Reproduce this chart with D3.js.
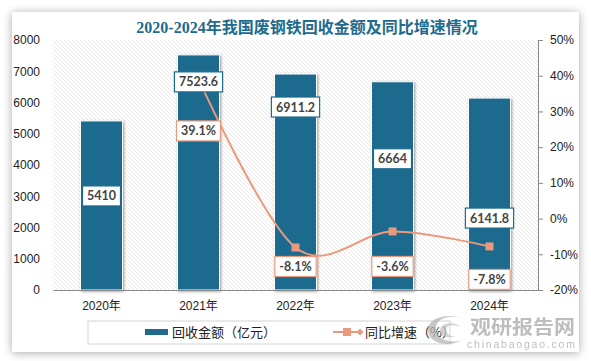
<!DOCTYPE html>
<html><head><meta charset="utf-8">
<script src="https://cdn.jsdelivr.net/npm/d3@7/dist/d3.min.js"></script>
<style>
html,body{margin:0;padding:0;background:#fff;}
svg{display:block;}
</style></head>
<body>
<svg id="chart" width="591" height="361"></svg>
<script>
// ---------- data ----------
const title = "2020-2024年我国废钢铁回收金额及同比增速情况";
const years = ["2020年", "2021年", "2022年", "2023年", "2024年"];
const amount = [5410, 7523.6, 6911.2, 6664, 6141.8];        // 回收金额（亿元）
const growth = [null, 39.1, -8.1, -3.6, -7.8];              // 同比增速（%）
const leftTicks = [0, 1000, 2000, 3000, 4000, 5000, 6000, 7000, 8000];
const rightTicks = [-20, -10, 0, 10, 20, 30, 40, 50];
const seriesNames = ["回收金额（亿元）", "同比增速（%）"];

// ---------- layout (label offsets in px, separate from data) ----------
const barLabelOffset = [75, 27, 33, 77, 120];   // below bar top
const pctLabelOffset = [0, 52, 19, 35, 33];     // below point

const BLUE = "#1E6B8E", ORANGE = "#E99A7C";
const svg = d3.select("#chart");
const defs = svg.append("defs");

const sh = defs.append("filter").attr("id","cardShadow").attr("x","-10%").attr("y","-10%").attr("width","120%").attr("height","120%");
sh.append("feGaussianBlur").attr("in","SourceAlpha").attr("stdDeviation",5);
sh.append("feOffset").attr("dx",0).attr("dy",1).attr("result","b");
sh.append("feComponentTransfer").append("feFuncA").attr("type","linear").attr("slope",0.35);
const m = sh.append("feMerge"); m.append("feMergeNode"); m.append("feMergeNode").attr("in","SourceGraphic");

const bs = defs.append("filter").attr("id","barShadow").attr("x","-30%").attr("y","-10%").attr("width","160%").attr("height","120%");
bs.append("feGaussianBlur").attr("in","SourceAlpha").attr("stdDeviation",1.5);
bs.append("feOffset").attr("dx",1).attr("dy",1);
bs.append("feComponentTransfer").append("feFuncA").attr("type","linear").attr("slope",0.4);
const m2 = bs.append("feMerge"); m2.append("feMergeNode"); m2.append("feMergeNode").attr("in","SourceGraphic");

const pat = defs.append("pattern").attr("id","hatch").attr("patternUnits","userSpaceOnUse")
  .attr("width",4).attr("height",4);
pat.append("rect").attr("width",4).attr("height",4).attr("fill","#fff");
pat.append("path").attr("d","M-1,-1 L5,5 M-1,3 L1,5 M3,-1 L5,1").attr("stroke","#e0e0e0").attr("stroke-width",0.7);

// card
svg.append("rect").attr("x",0).attr("y",0).attr("width",591).attr("height",361).attr("fill","#fff");
svg.append("rect").attr("x",12).attr("y",12).attr("width",567).attr("height",340)
  .attr("fill","#fff").attr("filter","url(#cardShadow)");

// scales
const plot = {l:53, r:538, t:40, b:290};
const x = d3.scaleBand().domain(years).range([plot.l, plot.r]).paddingInner(0.567).paddingOuter(0.2835);
const yL = d3.scaleLinear().domain([0, 8000]).range([plot.b, plot.t]);
const yR = d3.scaleLinear().domain([-20, 50]).range([plot.b, plot.t]);

// hatched plot background
svg.append("rect").attr("x",plot.l).attr("y",plot.t).attr("width",plot.r-plot.l).attr("height",plot.b-plot.t)
  .attr("fill","url(#hatch)");

// title
svg.append("text").attr("x",307).attr("y",33).attr("text-anchor","middle")
  .attr("font-family","'Liberation Serif','Noto Sans CJK SC',serif").attr("font-weight","bold")
  .attr("font-size",16).attr("fill","#1E6B8E").text(title);

const axisFont = "'Liberation Sans','Noto Sans CJK SC',sans-serif";

// left axis
const gL = svg.append("g").attr("transform",`translate(${plot.l},0)`)
  .call(d3.axisLeft(yL).tickValues(leftTicks).tickSize(0).tickPadding(13).tickFormat(d3.format("d")));
gL.select(".domain").remove();
gL.selectAll("text").attr("font-family",axisFont).attr("font-size",12).attr("fill","#222");

// right axis
const gR = svg.append("g").attr("transform",`translate(${plot.r},0)`)
  .call(d3.axisRight(yR).tickValues(rightTicks).tickSizeInner(5).tickSizeOuter(0).tickPadding(7).tickFormat(d => d + "%"));
gR.select(".domain").attr("stroke","#888");
gR.selectAll(".tick line").attr("stroke","#888");
gR.selectAll("text").attr("font-family",axisFont).attr("font-size",12).attr("fill","#222");

// bars
svg.append("g").selectAll("rect").data(amount).join("rect")
  .attr("x",(d,i)=>x(years[i])).attr("width",x.bandwidth())
  .attr("y",d=>yL(d)).attr("height",d=>yL(0)-yL(d))
  .attr("fill",BLUE).attr("stroke","#fff").attr("stroke-width",1)
  .attr("filter","url(#barShadow)");

// bottom axis
const gB = svg.append("g").attr("transform",`translate(0,${plot.b})`)
  .call(d3.axisBottom(x).tickSize(0).tickPadding(11));
gB.select(".domain").attr("stroke","#888").attr("stroke-width",1.2);
gB.selectAll("text").attr("font-family",axisFont).attr("font-size",12).attr("fill","#222");

// line
const pts = growth.map((g,i)=>({g,i})).filter(p=>p.g!==null);
const line = d3.line().x(p=>x(years[p.i])+x.bandwidth()/2).y(p=>yR(p.g)).curve(d3.curveCardinal.tension(0));
svg.append("path").datum(pts).attr("d",line).attr("fill","none").attr("stroke",ORANGE).attr("stroke-width",2);
svg.append("g").selectAll("rect").data(pts).join("rect")
  .attr("x",p=>x(years[p.i])+x.bandwidth()/2-4).attr("y",p=>yR(p.g)-4)
  .attr("width",8).attr("height",8).attr("fill",ORANGE);

// labels
const labFont = "Lato,'Liberation Sans',sans-serif";
function boxLabel(cx, cy, txt, border){
  const g = svg.append("g");
  const r = g.append("rect");
  const t = g.append("text").attr("x",cx).attr("y",cy).attr("dy","0.36em").attr("text-anchor","middle")
    .attr("font-family",labFont).attr("font-weight","bold").attr("font-size",12.5).attr("fill","#444").text(txt);
  const bb = t.node().getBBox();
  r.attr("x",bb.x-4.5).attr("y",cy-10).attr("width",bb.width+9).attr("height",20)
    .attr("fill","#fff").attr("stroke",border).attr("stroke-width",1.2);
}
amount.forEach((v,i)=>{
  boxLabel(x(years[i])+x.bandwidth()/2, yL(v)+barLabelOffset[i], String(v), BLUE);
});
pts.forEach(p=>{
  boxLabel(x(years[p.i])+x.bandwidth()/2, yR(p.g)+pctLabelOffset[p.i], p.g.toFixed(1)+"%", ORANGE);
});

// legend
const lg = svg.append("g");
lg.append("rect").attr("x",88).attr("y",321).attr("width",362).attr("height",23)
  .attr("fill","#fff").attr("stroke","#d4d4d4");
lg.append("rect").attr("x",145).attr("y",329).attr("width",23).attr("height",6).attr("fill",BLUE);
lg.append("text").attr("x",172).attr("y",332).attr("dy","0.36em").attr("font-family","'Noto Sans CJK SC',sans-serif")
  .attr("font-size",13).attr("fill","#222").text(seriesNames[0]);
lg.append("line").attr("x1",333).attr("x2",360).attr("y1",332).attr("y2",332).attr("stroke",ORANGE).attr("stroke-width",2);
lg.append("rect").attr("x",343).attr("y",328).attr("width",8).attr("height",8).attr("fill",ORANGE);
lg.append("path").attr("d","M360,328.5 L363.5,332 L360,335.5 L356.5,332 Z").attr("fill",ORANGE);
lg.append("text").attr("x",365).attr("y",332).attr("dy","0.36em").attr("font-family","'Noto Sans CJK SC',sans-serif")
  .attr("font-size",13).attr("fill","#222").text(seriesNames[1]);

// watermark
const wm = svg.append("g").attr("opacity",0.75);
wm.append("path").attr("d","M428,330 C428,316 452,312 466,320 C456,314 434,316 436,330 C437,340 452,344 462,340 C450,348 428,344 428,330 Z")
  .attr("fill","#b5b5b5");
wm.append("path").attr("d","M440,330 C441,322 455,321 461,327 C454,324 445,325 446,331 C447,335 452,337 456,336 C449,339 440,337 440,330 Z")
  .attr("fill","#c4c4c4");
wm.append("text").attr("x",470).attr("y",334).attr("font-family","'Noto Sans CJK SC',sans-serif").attr("font-weight","bold")
  .attr("font-size",19).attr("fill","#a8a8a8").attr("textLength",105).attr("lengthAdjust","spacingAndGlyphs").text("观研报告网");
wm.append("text").attr("x",467).attr("y",347.5).attr("font-family","'Liberation Sans',sans-serif")
  .attr("font-size",10.5).attr("fill","#a8a8a8").attr("textLength",108).text("chinabaogao.com");
</script>
</body></html>
